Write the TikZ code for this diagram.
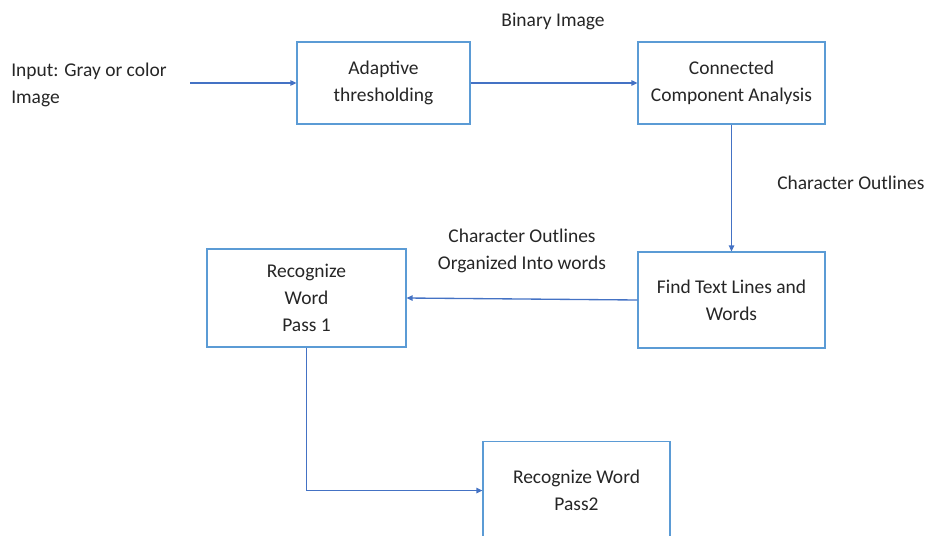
\documentclass[tikz,border=0pt]{standalone}
\usepackage{fontspec}
\setmainfont{Carlito}
\usetikzlibrary{arrows.meta,positioning}
\definecolor{cBox}{HTML}{5B9BD5}
\definecolor{cArr}{HTML}{4472C4}
\definecolor{cTxt}{HTML}{262626}
\def\px{0.75pt}
\tikzset{
  blk/.style ={draw=cBox,fill=white,align=center,inner sep=0pt,
               line width=0.8pt,text=cTxt},
  sig/.style ={-{Triangle[length=4.5pt,width=4pt]},draw=cArr,line width=1pt},
  lbl/.style ={align=center,text=cTxt,inner sep=0pt},
}

\begin{document}
\begin{tikzpicture}[x=0.75pt, y=-0.75pt, font=\fontsize{14.6}{20.25}\selectfont]
\useasboundingbox (0,0) rectangle (930,535);
\clip (0,0) rectangle (930,535);

% top row
\node[lbl,align=left,anchor=west] (input) at (11,85) {Input: Gray or color\\Image};
\coordinate (src) at (190,83);
\node[blk,minimum width=173*\px,minimum height=82*\px] (adapt) at (383.5,83)
  {Adaptive\\thresholding};
\node[blk,minimum width=187*\px,minimum height=82*\px] (cca) at (731.5,83)
  {Connected\\Component Analysis};
\node[lbl] (binlbl) at (553,21) {Binary Image};

\draw[sig] (src) -- (adapt.west);
\draw[sig] (adapt.east) -- (cca.west);

% down the right side, then back to the left
\node[blk,minimum width=187*\px,minimum height=96*\px] (lines) at (731.5,300)
  {Find Text Lines and\\Words};
\node[lbl,anchor=west] (outlbl) at (777,183) {Character Outlines};
\draw[sig] (cca.south) -- (lines.north);

\node[blk,minimum width=199*\px,minimum height=98*\px] (pass1) at (306.5,298)
  {Recognize\\Word\\Pass 1};
\node[lbl] (wordlbl) at (522,251) {Character Outlines\\Organized Into words};
\draw[sig] (lines.west) -- (pass1.east);

% second pass, cut off by the page edge
\node[blk,minimum width=187*\px,minimum height=98*\px,anchor=north] (pass2) at (576.5,441)
  {Recognize Word\\Pass2};
\draw[sig] (pass1.south) |- (pass2.west);
\end{tikzpicture}
\end{document}
